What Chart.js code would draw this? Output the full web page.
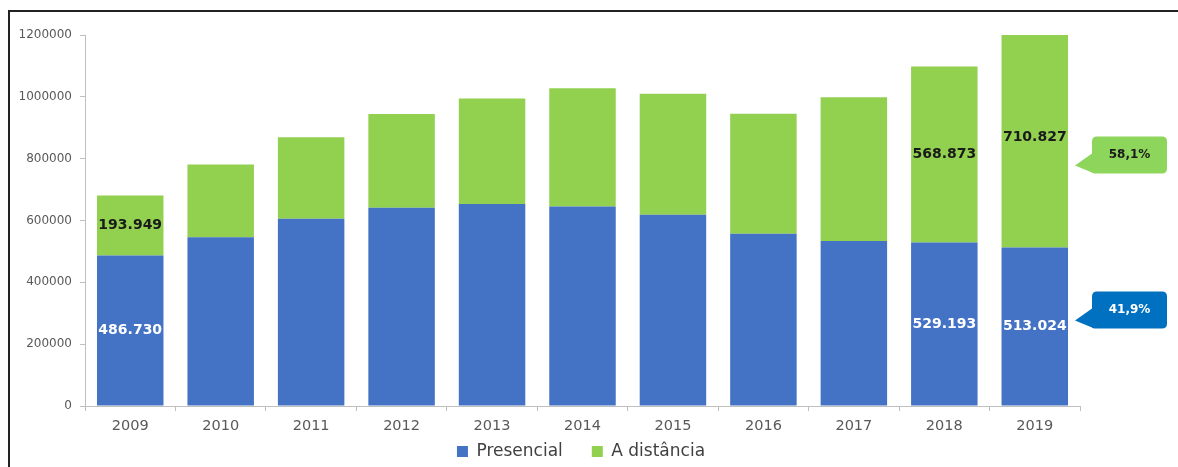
<!DOCTYPE html>
<html>
<head>
<meta charset="utf-8">
<title>Presencial x A distância</title>
<script src="https://cdn.jsdelivr.net/npm/chart.js@4.4.1/dist/chart.umd.min.js"></script>
<style>
  html, body { margin: 0; padding: 0; background: #fff; overflow: hidden; }
  #frame {
    position: absolute; left: 8px; top: 10px; right: -10px; bottom: -10px;
    border-top: 2px solid #222; border-left: 2px solid #222;
  }
  #wrap { position: absolute; left: 0; top: 0; width: 1178px; height: 470px; }
</style>
</head>
<body>
<div id="frame"></div>
<div id="wrap"><canvas id="chart" width="1178" height="470"></canvas></div>
<script>
// Data
const years = ['2009', '2010', '2011', '2012', '2013', '2014', '2015', '2016', '2017', '2018', '2019'];
const presencial = [486730, 546000, 606000, 641500, 653500, 645000, 619000, 557500, 534000, 529193, 513024];
const distancia = [193949, 235000, 263000, 303000, 341500, 383000, 391000, 388000, 464500, 568873, 710827];
const yTicks = [0, 200000, 400000, 600000, 800000, 1000000, 1200000];
const labelledYears = ['2009', '2018', '2019'];
const seriesNames = ['Presencial', 'A distância'];

const BLUE = '#4472C4';
const GREEN = '#92D050';
const FONT = "'DejaVu Sans', Verdana, sans-serif";

// 1234567 -> 1.234.567
function fmt(v) {
    return String(v).replace(/\B(?=(\d{3})+(?!\d))/g, '.');
}

// Value labels in the middle of the segments, only on some years
const segmentLabels = {
    id: 'segmentLabels',
    afterDatasetsDraw(chart) {
        const ctx = chart.ctx;
        ctx.save();
        ctx.font = 'bold 14px ' + FONT;
        ctx.textAlign = 'center';
        ctx.textBaseline = 'middle';
        chart.data.datasets.forEach(function(ds, di) {
            const meta = chart.getDatasetMeta(di);
            meta.data.forEach(function(bar, i) {
                if (labelledYears.indexOf(years[i]) < 0) return;
                const midY = (bar.y + bar.base) / 2;
                ctx.fillStyle = di === 0 ? '#ffffff' : '#1a1a1a';
                ctx.fillText(fmt(ds.data[i]), bar.x, midY);
            });
        });
        ctx.restore();
    }
};

// Rounded box with a small pointer on the left side
function drawCallout(ctx, x, y, w, h, r, tipX, color) {
    ctx.beginPath();
    ctx.moveTo(x + r, y);
    ctx.lineTo(x + w - r, y);
    ctx.quadraticCurveTo(x + w, y, x + w, y + r);
    ctx.lineTo(x + w, y + h - r);
    ctx.quadraticCurveTo(x + w, y + h, x + w - r, y + h);
    ctx.lineTo(x + r, y + h);
    ctx.quadraticCurveTo(x, y + h, x, y + h - 1);
    ctx.lineTo(tipX, y + 29);
    ctx.lineTo(x, y + 17);
    ctx.lineTo(x, y + r);
    ctx.quadraticCurveTo(x, y, x + r, y);
    ctx.closePath();
    ctx.fillStyle = color;
    ctx.fill();
}

// Share of each mode in the last year
const shareCallouts = {
    id: 'shareCallouts',
    afterDraw(chart) {
        const ctx = chart.ctx;
        const area = chart.chartArea;
        const last = years.length - 1;
        const total = presencial[last] + distancia[last];
        const boxX = area.right + 12;
        const boxW = 75, boxH = 37;
        const tipX = area.right - 5;

        const greenBar = chart.getDatasetMeta(1).data[last];
        const blueBar = chart.getDatasetMeta(0).data[last];
        const greenTop = (greenBar.y + greenBar.base) / 2 - 1;
        const blueTop = (blueBar.y + blueBar.base) / 2 - 35;

        const items = [
            { top: greenTop, color: '#8ED55B', text: '#1a1a1a', v: distancia[last] },
            { top: blueTop, color: '#0070C0', text: '#ffffff', v: presencial[last] }
        ];

        ctx.save();
        items.forEach(function(it) {
            drawCallout(ctx, boxX, it.top, boxW, boxH, 5, tipX, it.color);
            ctx.font = 'bold 12px ' + FONT;
            ctx.textAlign = 'center';
            ctx.textBaseline = 'middle';
            ctx.fillStyle = it.text;
            const pct = (it.v / total * 100).toFixed(1).replace('.', ',') + '%';
            ctx.fillText(pct, boxX + boxW / 2, it.top + 18);
        });
        ctx.restore();
    }
};

const ctx = document.getElementById('chart').getContext('2d');
new Chart(ctx, {
    type: 'bar',
    data: {
        labels: years,
        datasets: [
            { label: seriesNames[0], data: presencial, backgroundColor: BLUE },
            { label: seriesNames[1], data: distancia, backgroundColor: GREEN }
        ]
    },
    options: {
        responsive: false,
        animation: false,
        devicePixelRatio: 1,
        categoryPercentage: 1,
        barPercentage: 0.735,
        layout: { padding: { left: 0, top: 35, right: 16, bottom: 0 } },
        plugins: {
            tooltip: { enabled: false },
            legend: {
                position: 'bottom',
                labels: {
                    boxWidth: 11,
                    boxHeight: 11,
                    padding: 2,
                    color: '#404040',
                    font: { family: FONT, size: 17 },
                    // extra space after the first entry, like the original
                    generateLabels: function(chart) {
                        const items = Chart.defaults.plugins.legend.labels.generateLabels(chart);
                        items[0].text += '\u00a0\u00a0\u00a0\u00a0\u00a0';
                        return items;
                    }
                }
            }
        },
        scales: {
            x: {
                stacked: true,
                grid: { drawOnChartArea: false, drawTicks: true, tickLength: 5, color: '#bfbfbf' },
                border: { color: '#bfbfbf' },
                ticks: { color: '#595959', padding: 7, font: { family: FONT, size: 14.5 } },
                afterFit: function(scale) { scale.height = 35; }
            },
            y: {
                stacked: true,
                min: 0,
                max: yTicks[yTicks.length - 1],
                afterBuildTicks: function(scale) {
                    scale.ticks = yTicks.map(function(v) { return { value: v }; });
                },
                grid: { drawOnChartArea: false, drawTicks: true, tickLength: 5, color: '#bfbfbf' },
                border: { color: '#bfbfbf' },
                ticks: {
                    color: '#595959',
                    padding: 8,
                    font: { family: FONT, size: 12 },
                    callback: function(v) { return String(v); }
                },
                afterFit: function(scale) { scale.width = 85; }
            },
            // empty axis that keeps room on the right for the callouts
            room: {
                position: 'right',
                display: true,
                grid: { display: false },
                border: { display: false },
                ticks: { display: false },
                afterFit: function(scale) { scale.width = 82; }
            }
        }
    },
    plugins: [segmentLabels, shareCallouts]
});
</script>
</body>
</html>
